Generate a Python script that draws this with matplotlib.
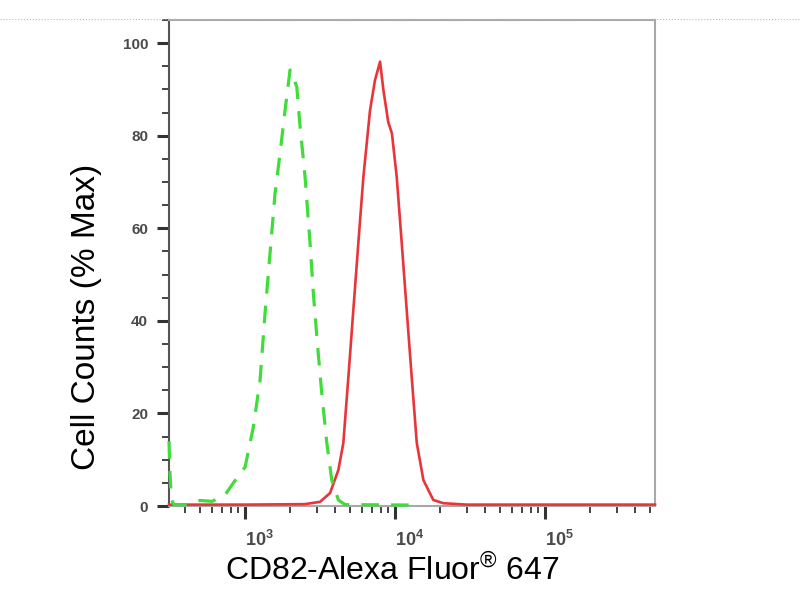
import matplotlib
matplotlib.use("Agg")
import matplotlib.pyplot as plt
from matplotlib.ticker import MultipleLocator, LogLocator, NullFormatter
from matplotlib.lines import Line2D

plt.rcParams['font.family'] = ['Liberation Sans', 'DejaVu Sans']
plt.rcParams['mathtext.fontset'] = 'custom'
plt.rcParams['mathtext.rm'] = 'Liberation Sans'
plt.rcParams['mathtext.it'] = 'Liberation Sans'
plt.rcParams['mathtext.bf'] = 'Liberation Sans:bold'

# isotype control (green dashed)
green_x = [311, 316, 322, 335, 400, 430, 501, 603, 736, 836, 926, 1000, 1136, 1259,
           1359, 1430, 1506, 1585, 1711, 1848, 1995, 2212, 2326, 2512, 2712, 2852,
           3034, 3245, 3508, 3786, 4190, 4642, 13590]
green_y = [14, 7, 1.5, 0.3, 0.3, 0.5, 1.2, 1.0, 2.4, 5, 7, 8.4, 17.1, 27.2,
           41.7, 50.3, 59, 67.6, 76.2, 85.5, 94.2, 90.6, 82, 71.1, 56.8, 46,
           35.2, 24.4, 13.6, 5.6, 1.3, 0.3, 0.2]

# CD82 stained (red solid)
red_x = [311, 1000, 2500, 3162, 3687, 4190, 4520, 4885, 5270, 5690, 6150, 6810,
         7350, 7943, 8350, 9000, 9530, 10260, 11080, 11960, 12910, 13960, 15450,
         17990, 20990, 30000, 541000]
red_y = [0.3, 0.3, 0.4, 0.9, 2.8, 7.8, 13.6, 27.9, 42.3, 56.8, 71.1, 85.5,
         92, 96, 90, 83, 80.5, 71.1, 56.8, 42.3, 27.9, 13.6, 5.6,
         1.3, 0.6, 0.3, 0.3]

fig = plt.figure(figsize=(8, 6), dpi=100)
ax = fig.add_axes([169 / 800, 1 - 506 / 600, 486 / 800, 486 / 600])

ax.plot(red_x, red_y, color='#e8353a', lw=1.9, zorder=3, clip_on=False)
g, = ax.plot(green_x, green_y, color='#3fdc3a', lw=2.3, zorder=4, clip_on=False)
g.set_dashes([5.5, 3.8])

ax.set_xscale('log')
ax.set_xlim(311, 541000)
ax.set_ylim(0, 105)

ax.set_xticks([1e3, 1e4, 1e5])
ax.xaxis.set_minor_locator(LogLocator(base=10, subs=range(2, 10), numticks=20))
ax.xaxis.set_minor_formatter(NullFormatter())
ax.set_yticks([0, 20, 40, 60, 80, 100])
ax.yaxis.set_minor_locator(MultipleLocator(5))

ax.tick_params(which='major', direction='out', length=9, width=2.2, color='#333333',
               labelsize=11, labelcolor='#4a4a4a', pad=6)
ax.tick_params(which='minor', direction='out', length=5, width=1.4, color='#444444')
ax.tick_params(axis='x', which='major', pad=8, labelsize=13)
for lbl in ax.get_xticklabels() + ax.get_yticklabels():
    lbl.set_fontweight('bold')
for lbl in ax.get_xticklabels():
    lbl.set_horizontalalignment('left')

ax.spines['left'].set_color('#555555')
ax.spines['left'].set_linewidth(1.5)
for s in ['top', 'right', 'bottom']:
    ax.spines[s].set_color('#a8a8a8')
    ax.spines[s].set_linewidth(1.5)

# light dotted line across the top of the picture
fig.add_artist(Line2D([0, 1], [1 - 19 / 600, 1 - 19 / 600], transform=fig.transFigure,
                      color='#bbbbbb', lw=0.8, ls=':'))

fig.text(87 / 800, 1 - 317 / 600, 'Cell Counts (% Max)', rotation=90,
         ha='center', va='center', fontsize=24)
fig.text(392 / 800, 1 - 580 / 600, r'CD82-Alexa Fluor$^{\mathregular{®}}$ 647',
         ha='center', va='baseline', fontsize=23)

fig.savefig('out.png', dpi=100)
